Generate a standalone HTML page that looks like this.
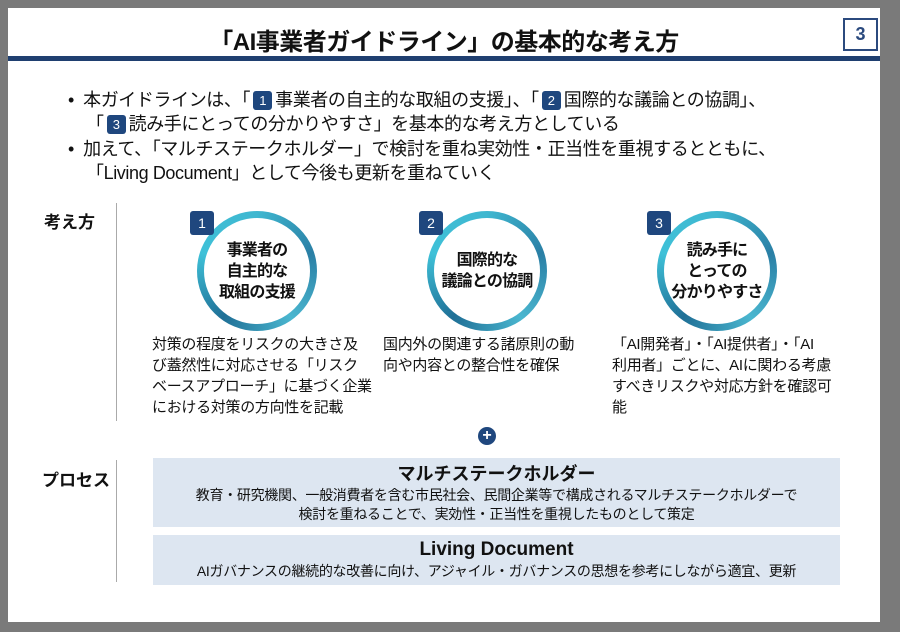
<!DOCTYPE html>
<html><head><meta charset="utf-8"><style>
*{margin:0;padding:0;box-sizing:border-box}
body{width:900px;height:632px;background:#7a7a7a;position:relative;overflow:hidden;font-family:"Liberation Sans","Noto Sans CJK JP",sans-serif;color:#111}
.slide{position:absolute;left:8px;top:8px;width:872px;height:614px;background:#fff}
.a{position:absolute;white-space:nowrap}
.title{left:0;width:872px;top:14px;text-align:center;font-size:24px;font-weight:bold;letter-spacing:-0.5px}
.pg{left:835px;top:10px;width:35px;height:33px;border:2px solid #2b4a7e;color:#2b4a7e;font-weight:bold;font-size:18px;text-align:center;line-height:29px}
.bar{left:0;top:48px;width:872px;height:5px;background:#1f3f70}
.b{font-size:18px;line-height:24px;letter-spacing:-0.4px}
.n{display:inline-block;width:19px;height:19px;background:#1f477e;color:#fff;font-size:13px;text-align:center;line-height:19px;border-radius:3px;vertical-align:1px;margin:0 3px}
.lab{font-size:17px;font-weight:bold}
.vl{position:absolute;left:108px;width:1px;background:#aaa}
.ring{position:absolute;width:120px;height:120px;border-radius:50%;background:conic-gradient(#3fb7d0,#2a7fa5,#4ab6cf,#1f6f96,#3fc1d8,#3fb7d0)}
.ring div{position:absolute;left:7px;top:7px;width:106px;height:106px;border-radius:50%;background:#fff;display:flex;align-items:center;justify-content:center;text-align:center;font-weight:bold;font-size:16px;line-height:21px;letter-spacing:-0.8px;white-space:nowrap}
.bd{position:absolute;width:24px;height:24px;background:#1f477e;color:#fff;border-radius:3px;font-size:14px;text-align:center;line-height:24px}
.d{position:absolute;font-size:15px;line-height:21px;white-space:nowrap;letter-spacing:-0.3px}
.box{position:absolute;left:145px;width:687px;background:#dde6f1;text-align:center}
</style></head><body><div class="slide">
<div class="a title">「AI事業者ガイドライン」の基本的な考え方</div>
<div class="a pg">3</div>
<div class="a bar"></div>
<div class="a b" style="left:60px;top:80px">•&nbsp; 本ガイドラインは、「<span class="n">1</span>事業者の自主的な取組の支援」、「<span class="n">2</span>国際的な議論との協調」、</div>
<div class="a b" style="left:78px;top:104px">「<span class="n">3</span>読み手にとっての分かりやすさ」を基本的な考え方としている</div>
<div class="a b" style="left:60px;top:129px">•&nbsp; 加えて、「マルチステークホルダー」で検討を重ね実効性・正当性を重視するとともに、</div>
<div class="a b" style="left:78px;top:153px">「Living Document」として今後も更新を重ねていく</div>
<div class="a lab" style="left:36px;top:200px">考え方</div>
<div class="vl" style="top:195px;height:218px"></div>
<div class="vl" style="top:452px;height:122px"></div>
<div class="ring" style="left:189px;top:203px"><div>事業者の<br>自主的な<br>取組の支援</div></div>
<div class="ring" style="left:419px;top:203px"><div>国際的な<br>議論との協調</div></div>
<div class="ring" style="left:649px;top:203px"><div>読み手に<br>とっての<br>分かりやすさ</div></div>
<div class="bd" style="left:182px;top:203px">1</div>
<div class="bd" style="left:411px;top:203px">2</div>
<div class="bd" style="left:639px;top:203px">3</div>
<div class="d" style="left:144px;top:326px">対策の程度をリスクの大きさ及<br>び蓋然性に対応させる「リスク<br>ベースアプローチ」に基づく企業<br>における対策の方向性を記載</div>
<div class="d" style="left:375px;top:326px">国内外の関連する諸原則の動<br>向や内容との整合性を確保</div>
<div class="d" style="left:604px;top:326px">「AI開発者」・「AI提供者」・「AI<br>利用者」ごとに、AIに関わる考慮<br>すべきリスクや対応方針を確認可<br>能</div>
<div class="a" style="left:470px;top:419px;width:18px;height:18px;border-radius:50%;background:#1f477e;color:#fff;text-align:center;font-size:16px;line-height:17px;font-weight:bold">+</div>
<div class="a lab" style="left:34px;top:458px">プロセス</div>
<div class="box" style="top:450px;height:69px"><div style="font-size:18px;font-weight:bold;margin-top:4px;line-height:24px">マルチステークホルダー</div><div style="font-size:14px;line-height:19px;letter-spacing:-0.3px">教育・研究機関、一般消費者を含む市民社会、民間企業等で構成されるマルチステークホルダーで<br>検討を重ねることで、実効性・正当性を重視したものとして策定</div></div>
<div class="box" style="top:527px;height:50px"><div style="font-size:19px;font-weight:bold;margin-top:3px;line-height:24px">Living Document</div><div style="font-size:14px;line-height:19px;letter-spacing:-0.3px">AIガバナンスの継続的な改善に向け、アジャイル・ガバナンスの思想を参考にしながら適宜、更新</div></div>
</div></body></html>
